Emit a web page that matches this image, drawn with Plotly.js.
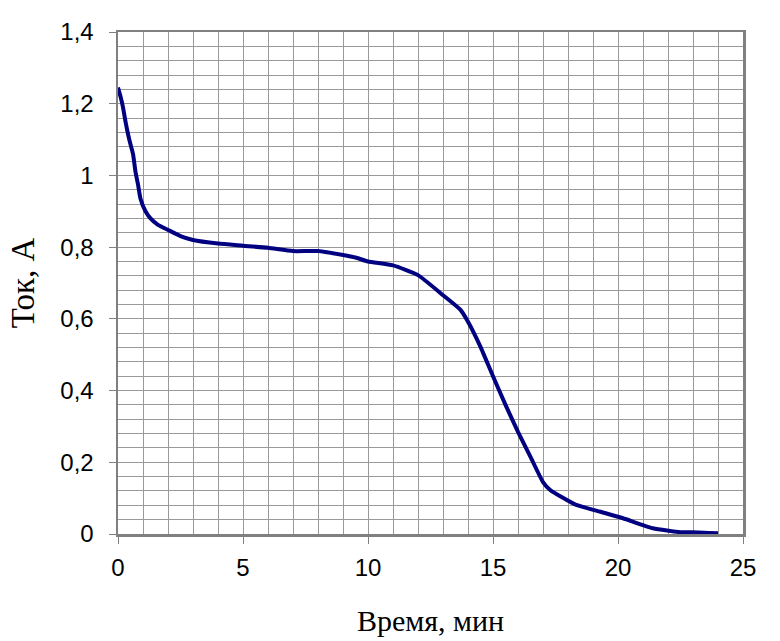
<!DOCTYPE html>
<html>
<head>
<meta charset="utf-8">
<script src="https://cdn.plot.ly/plotly-3.0.1.min.js"></script>
<style>html,body{margin:0;padding:0;background:#fff;}#chart{width:780px;height:641px;}</style>
</head>
<body>
<div id="chart"></div>
<script>
const timeMin = [0, 0.1, 0.2, 0.3, 0.45, 0.6, 0.7, 0.8, 0.9, 1.1, 1.3, 1.6, 2.0, 2.5, 3.0, 4.0, 5.0, 6.0, 7.0, 8.0, 9.0, 9.5, 10.0, 11.0, 12.0, 13.0, 13.7, 14.0, 14.5, 15.0, 15.5, 16.0, 16.5, 17.0, 17.3, 18.3, 19.3, 20.2, 21.4, 22.5, 23.0, 24.0];
const currentA = [1.245, 1.22, 1.19, 1.15, 1.1, 1.06, 1.01, 0.975, 0.935, 0.9, 0.88, 0.862, 0.848, 0.831, 0.82, 0.81, 0.804, 0.798, 0.789, 0.789, 0.778, 0.771, 0.76, 0.749, 0.722, 0.666, 0.625, 0.592, 0.522, 0.44, 0.36, 0.285, 0.215, 0.145, 0.122, 0.082, 0.062, 0.044, 0.016, 0.005, 0.005, 0.002];
const yTickVals = [0, 0.2, 0.4, 0.6, 0.8, 1, 1.2, 1.4];
const yTickText = ["0", "0,2", "0,4", "0,6", "0,8", "1", "1,2", "1,4"];
const xTickVals = [0, 5, 10, 15, 20, 25];
const xTickText = ["0", "5", "10", "15", "20", "25"];

const trace = {
  x: timeMin, y: currentA, type: 'scatter', mode: 'lines',
  line: {color: '#000080', width: 4, shape: 'spline', smoothing: 0.5},
  hoverinfo: 'skip'
};
const gridC = '#999999';
const layout = {
  width: 780, height: 641,
  margin: {l: 118, r: 37, t: 32, b: 107},
  paper_bgcolor: '#fff', plot_bgcolor: '#fff',
  showlegend: false,
  font: {family: 'Liberation Sans, Arial, sans-serif', color: '#000'},
  xaxis: {
    range: [0, 25], tickmode: 'array', tickvals: xTickVals, ticktext: xTickText,
    ticks: 'outside', ticklen: 7, tickcolor: '#808080', tickwidth: 1,
    ticklabelstandoff: 4,
    showgrid: true, gridcolor: gridC, gridwidth: 1,
    minor: {dtick: 1, showgrid: true, gridcolor: gridC, gridwidth: 1, ticks: ''},
    showline: true, linecolor: '#808080', linewidth: 2.5, mirror: true,
    zeroline: false,
    tickfont: {size: 24, family: 'Liberation Sans, Arial, sans-serif'},
    title: {text: 'Время, мин', font: {size: 30, family: 'Liberation Serif, Times New Roman, serif'}, standoff: 30}
  },
  yaxis: {
    range: [0, 1.4], tickmode: 'array', tickvals: yTickVals, ticktext: yTickText,
    ticks: 'outside', ticklen: 7, tickcolor: '#808080', tickwidth: 1,
    ticklabelstandoff: 10,
    showgrid: true, gridcolor: gridC, gridwidth: 1,
    minor: {tick0: 0, dtick: 0.04, showgrid: true, gridcolor: gridC, gridwidth: 1, ticks: ''},
    showline: true, linecolor: '#808080', linewidth: 2.5, mirror: true,
    zeroline: false,
    tickfont: {size: 24, family: 'Liberation Sans, Arial, sans-serif'},
    title: {text: 'Ток, А', font: {size: 33, family: 'Liberation Serif, Times New Roman, serif'}, standoff: 16}
  }
};
Plotly.newPlot('chart', [trace], layout, {displayModeBar: false, staticPlot: true});
</script>
</body>
</html>
